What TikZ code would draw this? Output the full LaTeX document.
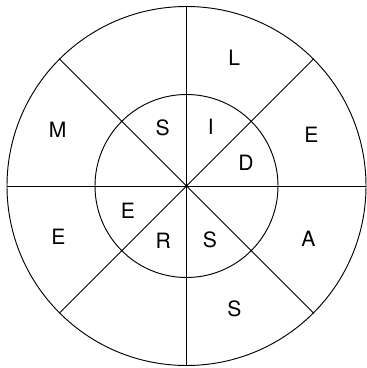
\documentclass[tikz,border=0pt]{standalone}
\usepackage{fontspec}
\setsansfont{TeX Gyre Heros}
\begin{document}
\begin{tikzpicture}[
  x=0.03cm,y=0.03cm,
  every node/.style={font=\sffamily\fontsize{18}{20}\selectfont,inner sep=0pt},
  ring/.style={draw,line width=0.8pt},
  spoke/.style={line width=0.8pt}
]
\useasboundingbox (-186.5,-182) rectangle (179.5,186);
\coordinate (c) at (0,0);
\draw[ring] (c) circle (179.5);
\draw[ring] (c) circle (91.5);
\foreach \a in {0,45,90,135}
  \draw[spoke] (\a:179.5) -- (\a+180:179.5);
\fill (c) circle (1.6);
% outer ring
\node (outL) at (69.6:137) {L};
\node (outE) at (22.2:135) {E};
\node (outA) at (-23.5:133) {A};
\node (outS) at (-68.7:132) {S};
\node (outEw) at (201.6:137.7) {E};
\node (outM) at (156.5:140.6) {M};
% inner ring
\node (inS) at (112.2:63) {S};
\node (inI) at (67.8:64) {I};
\node (inD) at (20.9:63.7) {D};
\node (inE) at (202.9:63.5) {E};
\node (inR) at (247:59.4) {R};
\node (inSs) at (293.5:59) {S};
\end{tikzpicture}
\end{document}
